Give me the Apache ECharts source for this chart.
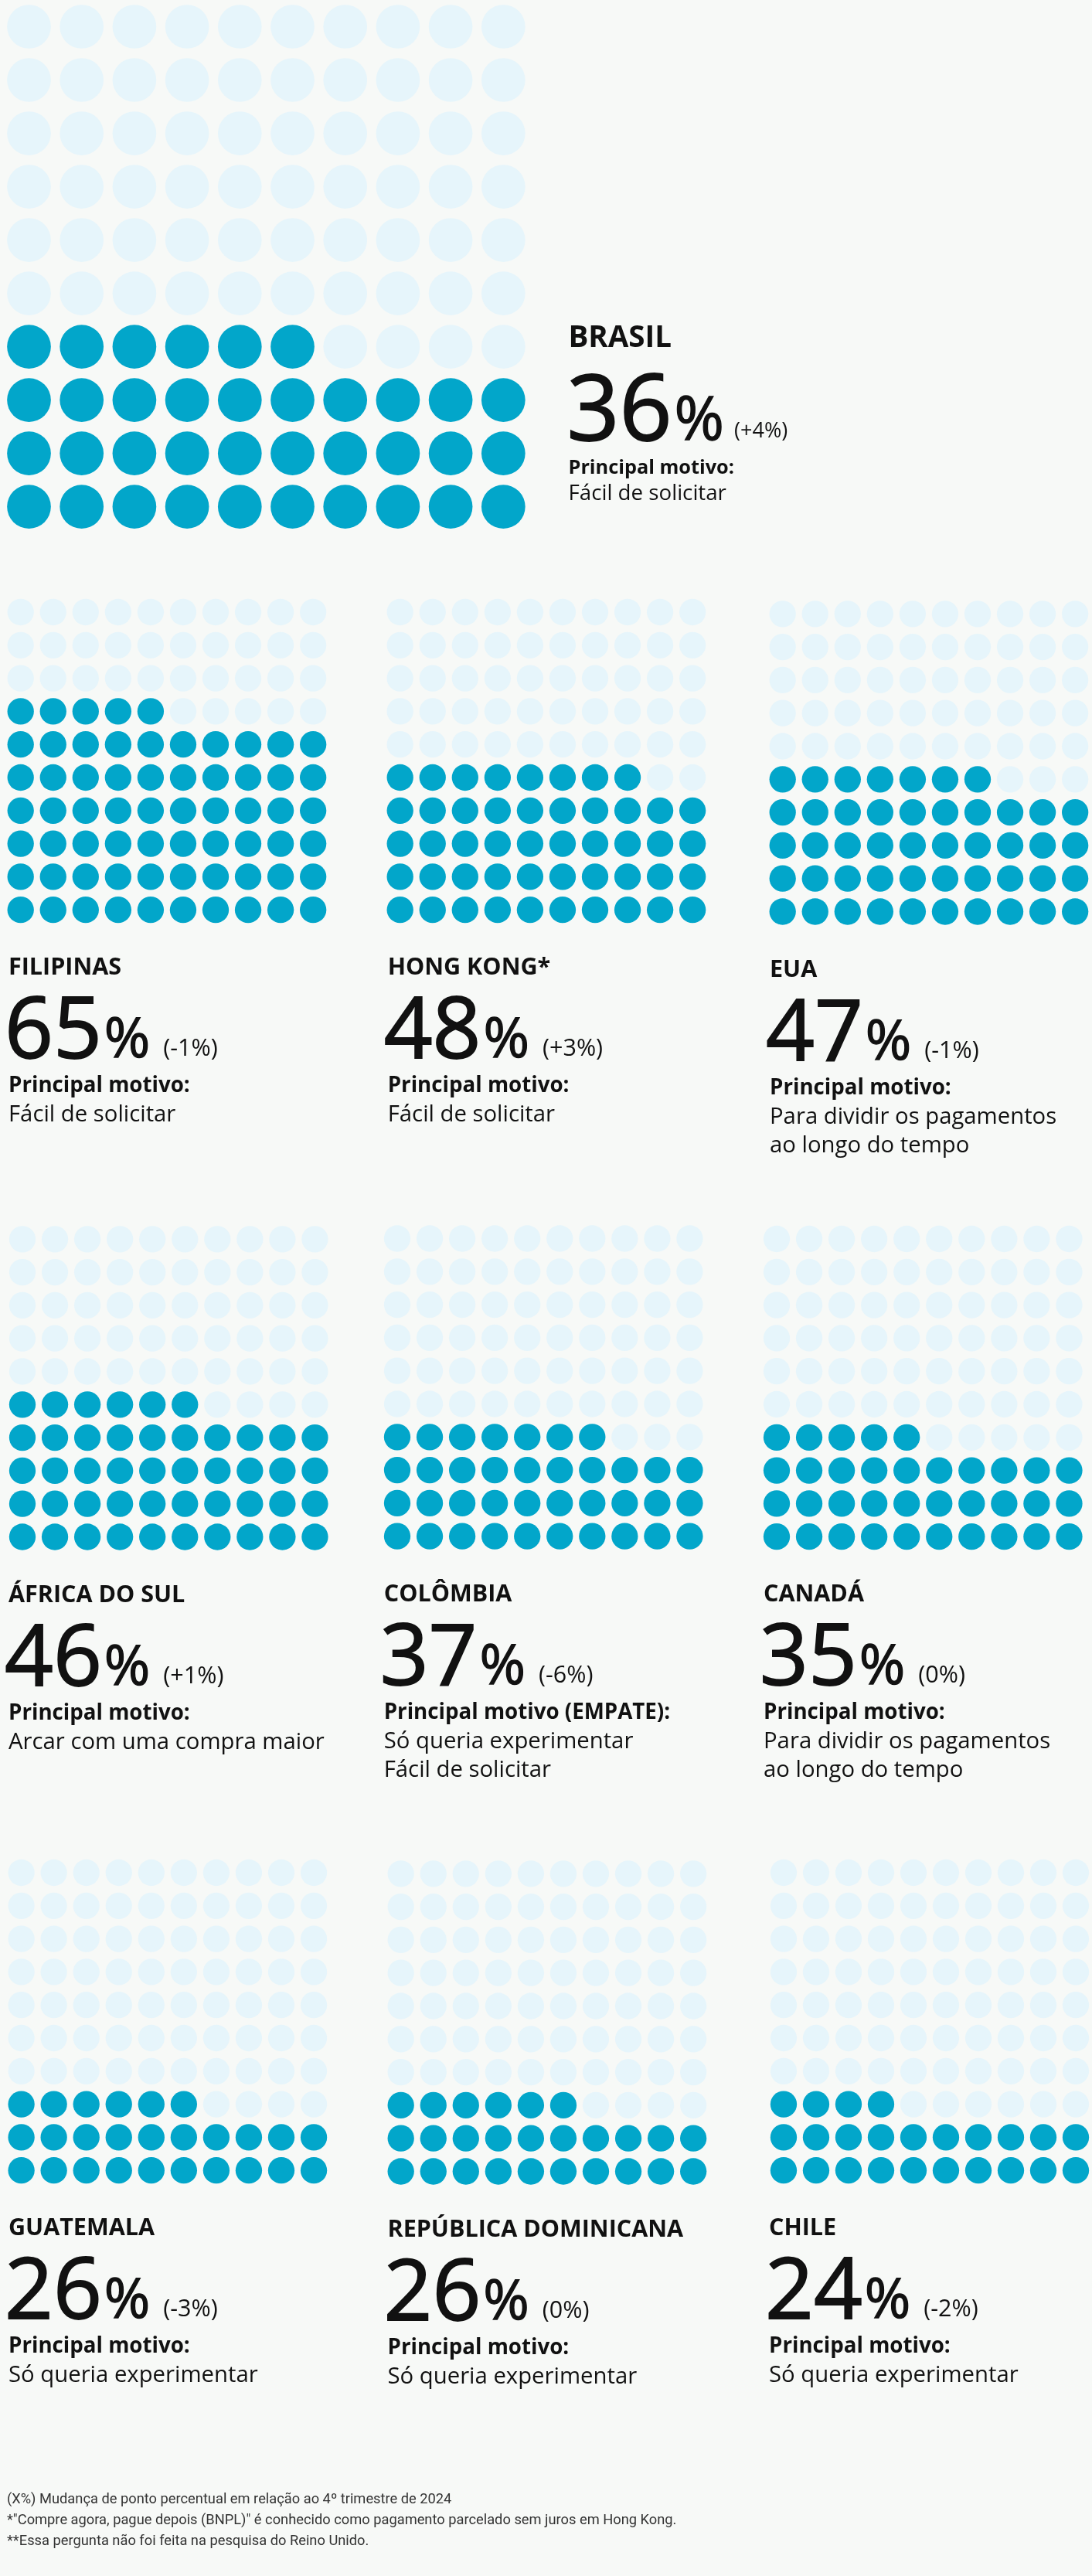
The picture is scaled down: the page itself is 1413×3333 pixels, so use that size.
<!DOCTYPE html>
<html>
<head>
<meta charset="utf-8">
<script src="https://cdn.jsdelivr.net/npm/echarts@6/dist/echarts.min.js"></script>
<style>
html,body{margin:0;padding:0;background:#f7f9f7;}
#chart{width:1413px;height:3333px;}
</style>
</head>
<body>
<div id="chart"></div>
<script>
// ---------------- DATA ----------------
const countries = ['BRASIL', 'FILIPINAS', 'HONG KONG*', 'EUA', 'ÁFRICA DO SUL', 'COLÔMBIA', 'CANADÁ', 'GUATEMALA', 'REPÚBLICA DOMINICANA', 'CHILE'];
const shares = [36, 65, 48, 47, 46, 37, 35, 26, 26, 24];
const changes = ['(+4%)', '(-1%)', '(+3%)', '(-1%)', '(+1%)', '(-6%)', '(0%)', '(-3%)', '(0%)', '(-2%)'];
const reasonTitles = ['Principal motivo:', 'Principal motivo:', 'Principal motivo:', 'Principal motivo:', 'Principal motivo:', 'Principal motivo (EMPATE):', 'Principal motivo:', 'Principal motivo:', 'Principal motivo:', 'Principal motivo:'];
const reasons = [
  ['Fácil de solicitar'],
  ['Fácil de solicitar'],
  ['Fácil de solicitar'],
  ['Para dividir os pagamentos', 'ao longo do tempo'],
  ['Arcar com uma compra maior'],
  ['Só queria experimentar', 'Fácil de solicitar'],
  ['Para dividir os pagamentos', 'ao longo do tempo'],
  ['Só queria experimentar'],
  ['Só queria experimentar'],
  ['Só queria experimentar']
];
const footnotes = [
  '(X%) Mudança de ponto percentual em relação ao 4º trimestre de 2024',
  '*"Compre agora, pague depois (BNPL)" é conhecido como pagamento parcelado sem juros em Hong Kong.',
  '**Essa pergunta não foi feita na pesquisa do Reino Unido.'
];
const GRID_COLS = 10;
const GRID_ROWS = 10;

// ---------------- LAYOUT / STYLE ----------------
const COLOR_ON = '#02a6ca';
const COLOR_OFF = '#e6f5fb';
const TEXT = '#111111';
const FONT = '"Open Sans", "Noto Sans", sans-serif';
const NUM_WEIGHT = 'normal';
const NUM_STROKE = 1.8;
const BASE_K = 0.26; // baseline offset below middle, in em

const smallPitchX = 42.05, smallPitchY = 42.8, smallSym = 34.3;
const layout = [
  {gx: 37.5, gy: 31.3, px: 68.2, py: 69.35, sym: 56.7, tx: 735.5},
  {gx: 26.7, gy: 792, tx: 11},
  {gx: 517.7, gy: 792, tx: 501.7},
  {gx: 1012.7, gy: 794.3, tx: 996},
  {gx: 29, gy: 1603.3, tx: 11},
  {gx: 514, gy: 1602.5, tx: 496.7},
  {gx: 1005, gy: 1603, tx: 988},
  {gx: 27.6, gy: 2423, tx: 11},
  {gx: 518.7, gy: 2424.3, tx: 501.5},
  {gx: 1014, gy: 2423, tx: 995}
];
layout.forEach((L, i) => {
  if (i > 0) { L.px = smallPitchX; L.py = smallPitchY; L.sym = smallSym; }
});

const bigText = {hSize: 38.5, hBase: 447.7, nSize: 119, nBase: 566.7, nInset: 2, pSize: 78, pGap: 3, cSize: 27, cBase: 565, cGap: 13, mSize: 25.3, mBase: 612.3, rSize: 27.7, rBase: 646.7, rGap: 35};
const smallText = {hSize: 30.5, hOff: 468.7, nSize: 110, nOff: 574.7, nInset: 5, pSize: 72, pGap: 3, cSize: 30.5, cOff: 573.5, cGap: 17, mSize: 27.7, mOff: 620.7, rSize: 29.3, rOff: 658.7, rGap: 37};

const ctx = document.createElement('canvas').getContext('2d');
function tw(str, size, weight, family) { ctx.font = weight + ' ' + size + 'px ' + family; return ctx.measureText(str).width; }

function T(x, baseline, str, size, weight, fill, family, strokeW) {
  const st = {
    text: str, fontSize: size, fontWeight: weight, fontFamily: family || FONT,
    fill: fill || TEXT, textAlign: 'left', verticalAlign: 'middle', lineHeight: size
  };
  if (strokeW) { st.stroke = fill || TEXT; st.lineWidth = strokeW; }
  return {type: 'text', silent: true, x: x, y: baseline - BASE_K * size, style: st};
}

// ---------------- BUILD ----------------
const grids = [], xAxes = [], yAxes = [], series = [], graphics = [];

layout.forEach((L, i) => {
  grids.push({
    left: L.gx - L.px / 2, top: L.gy - L.py / 2,
    width: GRID_COLS * L.px, height: GRID_ROWS * L.py
  });
  xAxes.push({type: 'value', gridIndex: i, min: -0.5, max: GRID_COLS - 0.5, show: false});
  yAxes.push({type: 'value', gridIndex: i, min: -0.5, max: GRID_ROWS - 0.5, inverse: true, show: false});
  const on = [], off = [];
  for (let r = 0; r < GRID_ROWS; r++) {
    for (let c = 0; c < GRID_COLS; c++) {
      const k = (GRID_ROWS - 1 - r) * GRID_COLS + c; // fill from bottom-left
      (k < shares[i] ? on : off).push([c, r]);
    }
  }
  const common = {type: 'scatter', xAxisIndex: i, yAxisIndex: i, symbol: 'circle', symbolSize: L.sym, silent: true, animation: false};
  series.push(Object.assign({name: countries[i] + ' resto', data: off, itemStyle: {color: COLOR_OFF, opacity: 1}}, common));
  series.push(Object.assign({name: countries[i], data: on, itemStyle: {color: COLOR_ON, opacity: 1}}, common));

  // texts
  const S = i === 0 ? bigText : smallText;
  const dy = i === 0 ? 0 : L.gy;
  const hB = i === 0 ? S.hBase : dy + S.hOff;
  const nB = i === 0 ? S.nBase : dy + S.nOff;
  const cB = i === 0 ? S.cBase : dy + S.cOff;
  const mB = i === 0 ? S.mBase : dy + S.mOff;
  const rB = i === 0 ? S.rBase : dy + S.rOff;
  graphics.push(T(L.tx, hB, countries[i], S.hSize, 'bold'));
  const numStr = String(shares[i]);
  const nx = L.tx - S.nInset;
  graphics.push(T(nx, nB, numStr, S.nSize, NUM_WEIGHT, TEXT, FONT, NUM_STROKE));
  const w1 = tw(numStr, S.nSize, NUM_WEIGHT, FONT);
  const px = nx + w1 + S.pGap;
  graphics.push(T(px, nB, '%', S.pSize, NUM_WEIGHT, TEXT, FONT, NUM_STROKE * 0.7));
  const w2 = tw('%', S.pSize, NUM_WEIGHT, FONT);
  graphics.push(T(px + w2 + S.cGap, cB, changes[i], S.cSize, 'normal'));
  graphics.push(T(L.tx, mB, reasonTitles[i], S.mSize, 'bold'));
  reasons[i].forEach((r, j) => graphics.push(T(L.tx, rB + j * S.rGap, r, S.rSize, 'normal')));
});

const footBase = [3239, 3266, 3293];
footnotes.forEach((f, j) => graphics.push(T(9, footBase[j], f, 18.3, 'normal', '#333333', 'Roboto, sans-serif')));

const chart = echarts.init(document.getElementById('chart'), null, {renderer: 'canvas'});
chart.setOption({
  backgroundColor: '#f7f9f7',
  animation: false,
  grid: grids,
  xAxis: xAxes,
  yAxis: yAxes,
  series: series,
  graphic: {elements: graphics}
});
</script>
</body>
</html>
